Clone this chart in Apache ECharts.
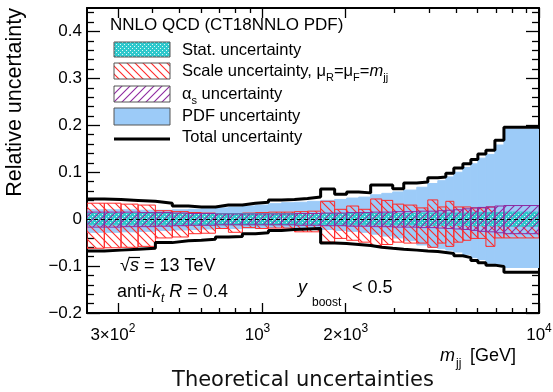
<!DOCTYPE html>
<html><head><meta charset="utf-8">
<script src="https://cdn.jsdelivr.net/npm/echarts@6/dist/echarts.min.js"></script>
<style>html,body{margin:0;padding:0;background:#fff}#c{width:553px;height:392px}</style>
</head><body><div id="c"></div>
<script>
// ---- data (mjj bin edges in GeV, relative uncertainties per bin) ----
const binEdges = [232, 268, 308, 355, 410, 472, 540, 601, 676, 753, 846, 943, 1051, 1172, 1306, 1455, 1623, 1824, 2016, 2228, 2462, 2700, 2958, 3243, 3614, 3962, 4306, 4603, 4920, 5305, 5670, 6011, 6427, 6927, 7468, 10000];
const totalUp = [0.043, 0.042, 0.040, 0.038, 0.034, 0.028, 0.026, 0.026, 0.030, 0.030, 0.034, 0.036, 0.041, 0.042, 0.044, 0.047, 0.064, 0.053, 0.058, 0.056, 0.073, 0.073, 0.065, 0.077, 0.079, 0.088, 0.090, 0.098, 0.109, 0.118, 0.127, 0.139, 0.147, 0.168, 0.196];
const totalDown = [-0.068, -0.066, -0.064, -0.062, -0.050, -0.046, -0.045, -0.043, -0.038, -0.037, -0.031, -0.029, -0.024, -0.022, -0.021, -0.020, -0.051, -0.052, -0.054, -0.056, -0.060, -0.062, -0.064, -0.066, -0.068, -0.069, -0.071, -0.073, -0.078, -0.082, -0.088, -0.093, -0.098, -0.101, -0.113];
const pdfUp = [0.020, 0.020, 0.020, 0.019, 0.019, 0.020, 0.021, 0.022, 0.024, 0.026, 0.028, 0.030, 0.033, 0.035, 0.036, 0.038, 0.040, 0.042, 0.045, 0.047, 0.052, 0.055, 0.058, 0.062, 0.068, 0.076, 0.082, 0.090, 0.100, 0.110, 0.118, 0.130, 0.138, 0.158, 0.192];
const pdfDown = [-0.028, -0.028, -0.027, -0.026, -0.024, -0.023, -0.022, -0.021, -0.020, -0.020, -0.019, -0.019, -0.018, -0.018, -0.018, -0.018, -0.022, -0.024, -0.026, -0.028, -0.032, -0.036, -0.040, -0.046, -0.055, -0.060, -0.063, -0.066, -0.070, -0.075, -0.082, -0.086, -0.094, -0.096, -0.103];
const scaleUp = [0.034, 0.034, 0.032, 0.030, 0.018, 0.016, 0.014, 0.013, 0.012, 0.012, 0.013, 0.014, 0.015, 0.015, 0.016, 0.017, 0.038, 0.021, 0.028, 0.021, 0.043, 0.040, 0.032, 0.030, 0.024, 0.041, 0.026, 0.038, 0.026, 0.026, 0.024, 0.024, 0.026, 0.013, 0.013];
const scaleDown = [-0.062, -0.061, -0.060, -0.058, -0.040, -0.038, -0.031, -0.030, -0.020, -0.028, -0.018, -0.020, -0.019, -0.019, -0.027, -0.027, -0.049, -0.041, -0.045, -0.049, -0.056, -0.054, -0.049, -0.051, -0.051, -0.060, -0.051, -0.058, -0.049, -0.045, -0.041, -0.041, -0.058, -0.040, -0.040];
const alphasUp = [0.015, 0.015, 0.015, 0.014, 0.014, 0.013, 0.012, 0.012, 0.011, 0.011, 0.011, 0.011, 0.011, 0.011, 0.012, 0.012, 0.013, 0.013, 0.014, 0.014, 0.015, 0.015, 0.016, 0.016, 0.017, 0.017, 0.018, 0.019, 0.020, 0.022, 0.024, 0.025, 0.026, 0.028, 0.029];
const alphasDown = [-0.017, -0.017, -0.016, -0.016, -0.015, -0.014, -0.013, -0.013, -0.012, -0.012, -0.012, -0.012, -0.012, -0.012, -0.013, -0.013, -0.014, -0.014, -0.015, -0.015, -0.016, -0.016, -0.017, -0.017, -0.018, -0.018, -0.019, -0.020, -0.021, -0.022, -0.024, -0.026, -0.027, -0.029, -0.031];
const statUp = [0.012, 0.012, 0.012, 0.012, 0.012, 0.012, 0.012, 0.012, 0.012, 0.012, 0.012, 0.012, 0.012, 0.012, 0.012, 0.012, 0.012, 0.012, 0.012, 0.012, 0.012, 0.012, 0.012, 0.012, 0.013, 0.013, 0.013, 0.013, 0.013, 0.013, 0.014, 0.014, 0.014, 0.014, 0.015];
const statDown = [-0.012, -0.012, -0.012, -0.012, -0.012, -0.012, -0.012, -0.012, -0.012, -0.012, -0.012, -0.012, -0.012, -0.012, -0.012, -0.012, -0.012, -0.012, -0.012, -0.012, -0.012, -0.012, -0.012, -0.012, -0.013, -0.013, -0.013, -0.013, -0.013, -0.013, -0.014, -0.014, -0.014, -0.014, -0.015];

// ---- ticks ----
const xMajorTicks = [300, 1000, 2000, 10000];
const xTickMantissa = ['3×', '', '2×', ''];
const xTickExponent = ['2', '3', '3', '4'];
const xMinorTicks = [400, 500, 600, 700, 800, 900, 3000, 4000, 5000, 6000, 7000, 8000, 9000];
const yMajorTicks = [-0.2, -0.1, 0, 0.1, 0.2, 0.3, 0.4];
const yTickLabels = ['−0.2', '−0.1', '0', '0.1', '0.2', '0.3', '0.4'];
const yMinorTicks = [-0.18, -0.16, -0.14, -0.12, -0.08, -0.06, -0.04, -0.02, 0.02, 0.04, 0.06, 0.08, 0.12, 0.14, 0.16, 0.18, 0.22, 0.24, 0.26, 0.28, 0.32, 0.34, 0.36, 0.38, 0.42, 0.44];
const yRange = [-0.2, 0.45];

// ---- helpers ----
const lx = v => Math.log10(v);
const xMin = lx(binEdges[0]), xMax = lx(binEdges[binEdges.length - 1]);
const FONT = '"Liberation Sans", Arial, Helvetica, sans-serif';

function hatchCanvas(color, dir, s, bg) {
  const c = document.createElement('canvas'); c.width = s; c.height = s;
  const g = c.getContext('2d');
  if (bg) { g.fillStyle = bg; g.fillRect(0, 0, s, s); }
  g.strokeStyle = color; g.lineWidth = 1.1;
  g.beginPath();
  if (dir > 0) {
    g.moveTo(0, s); g.lineTo(s, 0);
    g.moveTo(-1, 1); g.lineTo(1, -1);
    g.moveTo(s - 1, s + 1); g.lineTo(s + 1, s - 1);
  } else {
    g.moveTo(0, 0); g.lineTo(s, s);
    g.moveTo(-1, s - 1); g.lineTo(1, s + 1);
    g.moveTo(s - 1, -1); g.lineTo(s + 1, 1);
  }
  g.stroke();
  return c;
}
function dotCanvas(color) {
  const c = document.createElement('canvas'); c.width = 4; c.height = 4;
  const g = c.getContext('2d');
  g.fillStyle = color; g.fillRect(0, 0, 4, 4);
  g.fillStyle = 'rgba(255,255,255,0.85)';
  g.fillRect(0, 0, 1, 1); g.fillRect(2, 2, 1, 1);
  return c;
}
const RED = '#ff2a2a', PURPLE = '#8e2aa0', CYAN = '#2ec8cc', BLUE = '#9ccbf8';
const scalePat = { image: hatchCanvas(RED, -1, 8), repeat: 'repeat' };
const alphaPat = { image: hatchCanvas(PURPLE, 1, 8), repeat: 'repeat' };
const statPat = { image: dotCanvas(CYAN), repeat: 'repeat' };
const scalePatL = { image: hatchCanvas(RED, -1, 8, '#fff'), repeat: 'repeat' };
const alphaPatL = { image: hatchCanvas(PURPLE, 1, 8, '#fff'), repeat: 'repeat' };

function bandData(lo, hi) { return lo.map((d, i) => [lx(binEdges[i]), lx(binEdges[i + 1]), d, hi[i]]); }
function stepData(vals) {
  const out = [];
  vals.forEach((v, i) => { out.push([lx(binEdges[i]), v]); out.push([lx(binEdges[i + 1]), v]); });
  return out;
}
function bandSeries(name, lo, hi, fill, stroke, z) {
  return {
    type: 'custom', name, data: bandData(lo, hi), xAxisIndex: 0, yAxisIndex: 0,
    encode: { x: [0, 1], y: [2, 3] }, z, clip: true, silent: true, animation: false,
    renderItem(params, api) {
      const a = api.coord([api.value(0), api.value(3)]);
      const b = api.coord([api.value(1), api.value(2)]);
      return { type: 'rect', shape: { x: a[0], y: a[1], width: b[0] - a[0], height: b[1] - a[1] },
        style: { fill, stroke, lineWidth: 1 } };
    }
  };
}
function xAxisDef(pos, ticks, len, labels, line) {
  return {
    type: 'value', position: pos, min: xMin, max: xMax, gridIndex: 0,
    axisLine: { show: line, onZero: false, lineStyle: { color: '#000', width: 2 } },
    axisTick: { show: true, inside: true, length: len, customValues: ticks.map(lx), lineStyle: { color: '#000', width: 1.3 } },
    axisLabel: labels ? {
      show: true, customValues: xMajorTicks.map(lx), margin: 10, color: '#000',
      formatter: v => {
        let k = 0, d = 1e9;
        xMajorTicks.forEach((t, i) => { const dd = Math.abs(lx(t) - v); if (dd < d) { d = dd; k = i; } });
        return '{n|' + xTickMantissa[k] + '10}{p|' + xTickExponent[k] + '}' + (k < 2 ? '{g| }' : '');
      },
      rich: { n: { fontSize: 17, fontFamily: FONT, color: '#000' },
              p: { fontSize: 12, fontFamily: FONT, color: '#000', padding: [0, 0, 12, 0] },
              g: { fontSize: 12, width: 10 } }
    } : { show: false },
    splitLine: { show: false }
  };
}
function yAxisDef(pos, ticks, len, labels, line) {
  return {
    type: 'value', position: pos, min: yRange[0], max: yRange[1], gridIndex: 0,
    axisLine: { show: line, onZero: false, lineStyle: { color: '#000', width: 2 } },
    axisTick: { show: true, inside: true, length: len, customValues: ticks, lineStyle: { color: '#000', width: 1.3 } },
    axisLabel: labels ? {
      show: true, customValues: yMajorTicks, margin: 5, color: '#000', fontSize: 17, fontFamily: FONT,
      formatter: v => {
        let k = 0, d = 1e9;
        yMajorTicks.forEach((t, i) => { const dd = Math.abs(t - v); if (dd < d) { d = dd; k = i; } });
        return yTickLabels[k];
      }
    } : { show: false },
    splitLine: { show: false }
  };
}

const chart = echarts.init(document.getElementById('c'), null, { renderer: 'canvas' });
const txt = (x, y, text, size, extra) => ({
  type: 'text', x, y, silent: true,
  style: Object.assign({ text, fill: '#000', font: size + 'px ' + FONT, align: 'left', verticalAlign: 'middle' }, extra || {})
});
const richBase = (size) => ({
  n: { fontSize: size, fontFamily: FONT, color: '#000' },
  i: { fontSize: size, fontFamily: FONT, fontStyle: 'italic', color: '#000' },
  b: { fontSize: Math.round(size * 0.68), fontFamily: FONT, color: '#000', padding: [14, 0, 0, 0] },
  bi: { fontSize: Math.round(size * 0.68), fontFamily: FONT, fontStyle: 'italic', color: '#000', padding: [14, 0, 0, 0] }
});

chart.setOption({
  animation: false,
  backgroundColor: '#fff',
  grid: { left: 87, top: 8, width: 452, height: 305, containLabel: false, outerBoundsMode: 'none' },
  xAxis: [
    xAxisDef('bottom', xMajorTicks, 10, true, true),
    xAxisDef('bottom', xMinorTicks, 5, false, false),
    xAxisDef('top', xMajorTicks, 10, false, true),
    xAxisDef('top', xMinorTicks, 5, false, false)
  ],
  yAxis: [
    yAxisDef('left', yMajorTicks, 13, true, true),
    yAxisDef('left', yMinorTicks, 7, false, false),
    yAxisDef('right', yMajorTicks, 13, false, true),
    yAxisDef('right', yMinorTicks, 7, false, false)
  ],
  series: [
    bandSeries('PDF uncertainty', pdfDown, pdfUp, BLUE, BLUE, 1),
    bandSeries('Scale uncertainty', scaleDown, scaleUp, scalePat, RED, 2),
    bandSeries('Stat. uncertainty', statDown, statUp, statPat, CYAN, 3),
    bandSeries('alpha_s uncertainty', alphasDown, alphasUp, alphaPat, PURPLE, 4),
    { type: 'line', name: 'Total up', data: stepData(totalUp), xAxisIndex: 0, yAxisIndex: 0, z: 6,
      showSymbol: false, symbol: 'none', lineStyle: { color: '#000', width: 3 }, clip: true, silent: true,
      markLine: { silent: true, symbol: 'none', label: { show: false },
        lineStyle: { color: '#000', width: 1, type: [4, 3] }, data: [{ yAxis: 0 }] } },
    { type: 'line', name: 'Total down', data: stepData(totalDown), xAxisIndex: 0, yAxisIndex: 0, z: 6,
      showSymbol: false, symbol: 'none', lineStyle: { color: '#000', width: 3 }, clip: true, silent: true }
  ],
  graphic: [
    // legend
    txt(110, 25, 'NNLO QCD (CT18NNLO PDF)', 17),
    { type: 'rect', shape: { x: 114, y: 42, width: 56, height: 15 }, style: { fill: statPat, stroke: '#555', lineWidth: 1 }, silent: true },
    { type: 'rect', shape: { x: 114, y: 63, width: 56, height: 16 }, style: { fill: scalePatL, stroke: '#555', lineWidth: 1 }, silent: true },
    { type: 'rect', shape: { x: 114, y: 86, width: 56, height: 16 }, style: { fill: alphaPatL, stroke: '#555', lineWidth: 1 }, silent: true },
    { type: 'rect', shape: { x: 114, y: 108, width: 56, height: 17 }, style: { fill: BLUE, stroke: '#555', lineWidth: 1 }, silent: true },
    { type: 'line', shape: { x1: 114, y1: 139, x2: 170, y2: 139 }, style: { stroke: '#000', lineWidth: 3 }, silent: true },
    txt(182, 50, 'Stat. uncertainty', 16.5),
    txt(182, 71, '{n|Scale uncertainty, μ}{b|R}{n|=μ}{b|F}{n|=}{i|m}{b|jj}', 16.5, { rich: richBase(16.5) }),
    txt(182, 94, '{n|α}{b|s}{n| uncertainty}', 16.5, { rich: richBase(16.5) }),
    txt(182, 116, 'PDF uncertainty', 16.5),
    txt(182, 137, 'Total uncertainty', 16.5),
    // annotations
    txt(120, 266, '{n|√}{i|s}{n| = 13 TeV}', 18, { rich: richBase(18) }),
    { type: 'line', shape: { x1: 129, y1: 257.5, x2: 140, y2: 257.5 }, style: { stroke: '#000', lineWidth: 1.2 }, silent: true },
    txt(117, 292, '{n|anti-}{i|k}{bi|t}{i| R}{n| = 0.4}', 18, { rich: richBase(18) }),
    txt(298, 288, 'y', 18, { font: 'italic 18px ' + FONT }),
    txt(312, 303, 'boost', 12),
    txt(352, 288, '< 0.5', 18),
    // axis titles
    txt(440, 356, 'm', 18, { font: 'italic 18px ' + FONT }),
    txt(456, 364, 'jj', 12),
    txt(470, 356, '[GeV]', 18),
    { type: 'text', x: 15, y: 8, rotation: Math.PI / 2, silent: true,
      style: { text: 'Relative uncertainty', fill: '#000', font: '21.5px ' + FONT, align: 'right', verticalAlign: 'middle' } },
    txt(303, 381, 'Theoretical uncertainties', 21, { align: 'center', font: '21px "DejaVu Sans", sans-serif', fill: '#111' })
  ]
});
</script>
</body></html>
